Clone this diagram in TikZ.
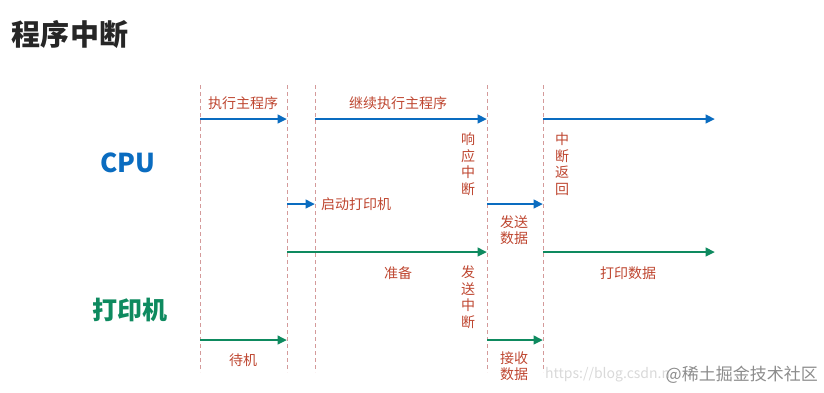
\documentclass[tikz,border=0pt]{standalone}
\usepackage{fontspec}
\setmainfont{Noto Sans CJK SC}
\usetikzlibrary{arrows.meta}
\definecolor{cpublue}{HTML}{0A6CC0}
\definecolor{prngreen}{HTML}{0E8A5F}
\definecolor{lblred}{HTML}{BE4630}
\definecolor{markpink}{HTML}{D49A9A}

\begin{document}
\begin{tikzpicture}[x=1pt, y=-1pt,
  lbl/.style={text=lblred, font=\fontsize{14}{16.5}\selectfont, inner sep=0pt, align=center},
  dashline/.style={markpink, line width=1pt, dash pattern=on 4pt off 3pt},
  cpuarr/.style={cpublue, line width=2.6pt, -{Triangle[length=9.5pt,width=8.5pt]}},
  prnarr/.style={prngreen, line width=2.6pt, -{Triangle[length=9.5pt,width=8.5pt]}}]
  \useasboundingbox (0,0) rectangle (824,392);

  \node[font=\fontsize{29}{30}\selectfont\bfseries, text=black!85] (title) at (70,34) {程序中断};

  % time marks and the four levels
  \foreach \t/\x in {a/200,b/287,c/315,d/487,e/543,f/715} {
    \coordinate (u\t) at (\x,119);
    \coordinate (v\t) at (\x,204);
    \coordinate (p\t) at (\x,252);
    \coordinate (q\t) at (\x,340);
  }
  \foreach \x in {200,287,315,487,543}
    \draw[dashline] (\x,85) -- (\x,372);

  % CPU
  \node[font=\fontsize{26}{28}\selectfont\bfseries, text=cpublue] (cpu) at (128,163) {CPU};
  \draw[cpuarr] (ua) -- (ub);
  \draw[cpuarr] (uc) -- (ud);
  \draw[cpuarr] (ue) -- (uf);
  \draw[cpuarr] (vb) -- (vc);
  \draw[cpuarr] (vd) -- (ve);

  % printer
  \node[font=\fontsize{25}{27}\selectfont\bfseries, text=prngreen] (prn) at (130,310) {打印机};
  \draw[prnarr] (pb) -- (pd);
  \draw[prnarr] (pe) -- (pf);
  \draw[prnarr] (qa) -- (qb);
  \draw[prnarr] (qd) -- (qe);

  % labels
  \node[lbl] (run) at (243,103) {执行主程序};
  \node[lbl] (cont) at (398,103) {继续执行主程序};
  \node[lbl] (resp) at (468,164) {响\\应\\中\\断};
  \node[lbl] (ret) at (562,164) {中\\断\\返\\回};
  \node[lbl, anchor=west] (start) at (321,204) {启动打印机};
  \node[lbl] (send) at (514,230) {发送\\数据};
  \node[lbl] (prep) at (398,273) {准备};
  \node[lbl] (sint) at (468,297) {发\\送\\中\\断};
  \node[lbl] (prt) at (628,273) {打印数据};
  \node[lbl] (idle) at (243,360) {待机};
  \node[lbl] (recv) at (514,366) {接收\\数据};

  % watermark
  \node[anchor=west, text=black!15, font=\fontsize{14}{15}\selectfont, inner sep=0pt] (url) at (545,375) {https://blog.csdn.n};
  \node[anchor=east, text=black!45, font=\fontsize{17}{18}\selectfont, inner sep=0pt] (mark) at (818,375) {@稀土掘金技术社区};
\end{tikzpicture}
\end{document}
